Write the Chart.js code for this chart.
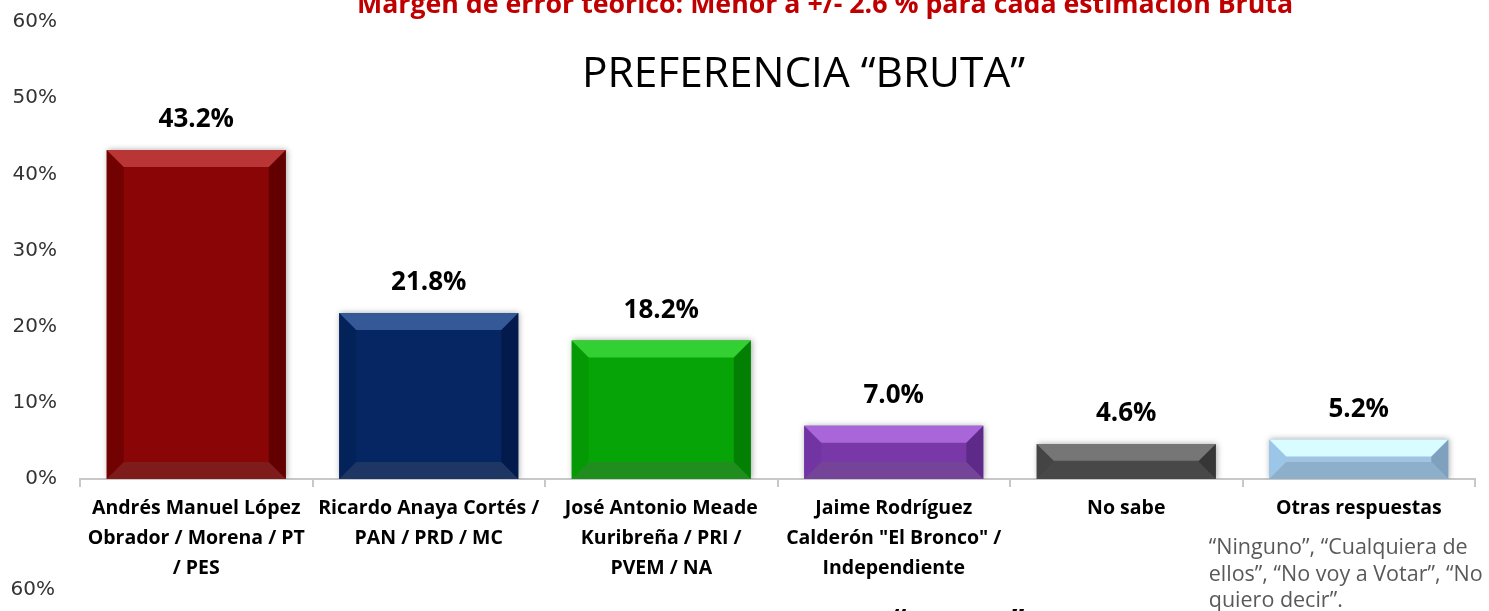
<!DOCTYPE html>
<html><head><meta charset="utf-8">
<script src="https://cdn.jsdelivr.net/npm/chart.js@4/dist/chart.umd.min.js"></script>
<style>html,body{margin:0;padding:0;background:#fff;overflow:hidden}canvas{display:block}</style>
</head><body>
<canvas id="c" width="1489" height="611"></canvas>
<script>
// ---- data ----
const categories = [
  ["Andrés Manuel López", "Obrador / Morena / PT", "/ PES"],
  ["Ricardo Anaya Cortés /", "PAN / PRD / MC"],
  ["José Antonio Meade", "Kuribreña / PRI /", "PVEM / NA"],
  ["Jaime Rodríguez", "Calderón \"El Bronco\" /", "Independiente"],
  "No sabe",
  "Otras respuestas"
];
const values = [43.2, 21.8, 18.2, 7.0, 4.6, 5.2];
const yTickValues = [0, 10, 20, 30, 40, 50, 60];
const valueLabels = values.map(v => v.toFixed(1) + '%');
const subtitleText = 'Margen de error teórico: Menor a +/- 2.6 % para cada estimación Bruta';
const titleText = 'PREFERENCIA “BRUTA”';
const otherNote = ['“Ninguno”, “Cualquiera de', 'ellos”, “No voy a Votar”, “No', 'quiero decir”.'];
const nextChartTick = '60%';

// ---- styles ----
const palette = [
  {main:'#8A0606', top:'#BA3636', left:'#720202', right:'#620000', bottom:'#7E1C1C'},
  {main:'#052663', top:'#355896', left:'#04225A', right:'#021A4C', bottom:'#1E3664'},
  {main:'#06A406', top:'#33D033', left:'#059A05', right:'#038003', bottom:'#1F8E1F'},
  {main:'#7838A8', top:'#A866D8', left:'#7234A2', right:'#5E2A8A', bottom:'#744498'},
  {main:'#4A4A4A', top:'#767676', left:'#444444', right:'#363636', bottom:'#484848'},
  {main:'#A0C4E2', top:'#D8FCFF', left:'#9CC6E8', right:'#7FA1BD', bottom:'#8EAFC9'}
];
const CAL = '"Open Sans", sans-serif';
const BEVEL = 17;

function poly(ctx, pts, color){
  ctx.beginPath(); ctx.moveTo(pts[0][0], pts[0][1]);
  for (let i=1;i<pts.length;i++) ctx.lineTo(pts[i][0], pts[i][1]);
  ctx.closePath(); ctx.fillStyle = color; ctx.fill();
}
function fitFont(ctx, text, weight, family, target){
  ctx.font = weight + ' 100px ' + family;
  const w = ctx.measureText(text).width;
  return weight + ' ' + (100*target/w).toFixed(2) + 'px ' + family;
}

const bevelPlugin = {
  id: 'bevel',
  beforeDatasetsDraw(chart){
    const ctx = chart.ctx; ctx.save();
    ctx.shadowColor = 'rgba(0,0,0,0.35)'; ctx.shadowBlur = 6; ctx.shadowOffsetX = 1; ctx.shadowOffsetY = 0;
  },
  afterDatasetsDraw(chart){
    const ctx = chart.ctx; ctx.restore();
    const meta = chart.getDatasetMeta(0);
    meta.data.forEach((bar, i) => {
      const p = bar.getProps(['x','y','base','width'], true);
      const L = p.x - p.width/2, R = p.x + p.width/2;
      const T = Math.min(p.y, p.base), B = Math.max(p.y, p.base);
      const h = B - T, b = BEVEL;
      const y1 = T + Math.min(b, h*0.48);
      const y2 = Math.max(y1, B - b);
      const c = palette[i];
      ctx.save();
      poly(ctx, [[L,T],[L+b,y1],[L+b,y2],[L,B]], c.left);
      poly(ctx, [[R,T],[R-b,y1],[R-b,y2],[R,B]], c.right);
      poly(ctx, [[L,B],[L+b,y2],[R-b,y2],[R,B]], c.bottom);
      poly(ctx, [[L,T],[R,T],[R-b,y1],[L+b,y1]], c.top);
      ctx.restore();
      // value label
      ctx.save();
      ctx.font = 'bold 26px ' + CAL; ctx.fillStyle = '#000';
      ctx.textAlign = 'center'; ctx.textBaseline = 'middle';
      ctx.fillText(valueLabels[i], p.x, T - 30);
      ctx.restore();
    });
  },
  afterDraw(chart){
    const ctx = chart.ctx;
    const xs = chart.scales.x;
    ctx.save();
    // subtitle (cut at top)
    ctx.font = fitFont(ctx, subtitleText, 'bold', CAL, 936);
    ctx.fillStyle = '#C00000'; ctx.textAlign = 'center'; ctx.textBaseline = 'alphabetic';
    ctx.fillText(subtitleText, 825, 13);
    // title
    ctx.font = fitFont(ctx, titleText, 'normal', CAL, 443);
    ctx.fillStyle = '#000';
    ctx.fillText(titleText, 803.5, 87);
    // note under "Otras respuestas"
    ctx.font = '21.5px ' + CAL; ctx.fillStyle = '#595959'; ctx.textAlign = 'left'; ctx.textBaseline = 'middle';
    const nx = xs.getPixelForValue(5) - 150;
    otherNote.forEach((line, k) => ctx.fillText(line, nx, 548 + k*26.5));
    // next chart remnants
    ctx.font = '20px "DejaVu Sans"'; ctx.fillStyle = '#333'; ctx.textAlign = 'right'; ctx.textBaseline = 'middle';
    ctx.fillText(nextChartTick, 55, 590);
    ctx.font = 'bold 30px ' + CAL; ctx.fillStyle = '#000'; ctx.textAlign = 'left'; ctx.textBaseline = 'alphabetic';
    ctx.fillText('“', 893, 631);
    ctx.fillText('”', 1011, 631);
    ctx.restore();
  }
};

new Chart(document.getElementById('c'), {
  type: 'bar',
  data: {
    labels: categories,
    datasets: [{
      data: values,
      backgroundColor: palette.map(p => p.main),
      borderWidth: 0,
      barPercentage: 0.77,
      categoryPercentage: 1.0
    }]
  },
  options: {
    responsive: false,
    animation: false,
    devicePixelRatio: 1,
    layout: { padding: { top: 22, left: 0, right: 14, bottom: 0 } },
    plugins: { legend: { display: false }, tooltip: { enabled: false }, title: { display: false } },
    scales: {
      x: {
        offset: true,
        grid: { display: true, drawOnChartArea: false, drawTicks: true, tickLength: 8, offset: true, color: '#C8C8C8', lineWidth: 2 },
        border: { display: true, color: '#C8C8C8', width: 2 },
        ticks: { color: '#000', font: { family: CAL, size: 19.5, weight: 'bold', lineHeight: 1.52 }, padding: 7, maxRotation: 0, minRotation: 0, autoSkip: false },
        afterFit(s){ s.height = 132; s.paddingLeft = 0; s.paddingRight = 0; }
      },
      y: {
        min: 0, max: 60,
        afterBuildTicks(s){ s.ticks = yTickValues.map(v => ({value: v})); },
        grid: { display: false },
        border: { display: false },
        ticks: { color: '#333', font: { family: 'DejaVu Sans', size: 20 }, padding: 15, callback: v => v + '%' },
        afterFit(s){ s.width = 80; s.paddingTop = 0; s.paddingBottom = 0; }
      }
    }
  },
  plugins: [bevelPlugin]
});
</script>
</body></html>
